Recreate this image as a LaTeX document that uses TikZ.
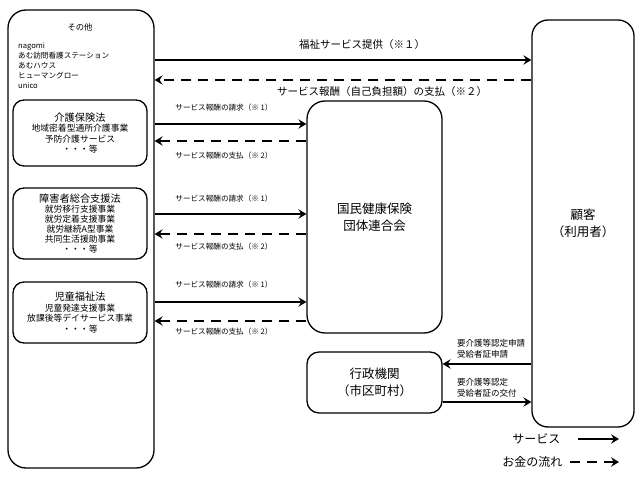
\documentclass[tikz,border=0pt]{standalone}
\usepackage{fontspec}
\setmainfont{Noto Sans CJK JP}
\usetikzlibrary{arrows.meta}
\tikzset{
  bigbox/.style={draw, line width=1.3pt, rounded corners=18pt},
  lawbox/.style={draw, line width=1.3pt, rounded corners=11pt, align=center,
    minimum width=134pt, font=\fontsize{8.8}{10.5}\selectfont},
  srvline/.style={line width=2pt, -{Stealth[length=8pt,width=9.5pt,inset=3pt]}},
  payline/.style={srvline, dash pattern=on 10pt off 7pt},
  smalltext/.style={font=\fontsize{7.6}{9}\selectfont},
  toptext/.style={font=\fontsize{10.5}{12}\selectfont},
  bigtext/.style={font=\fontsize{12.5}{17}\selectfont, align=center},
}
\newcommand{\lawhead}[1]{{\fontsize{10.2}{11}\selectfont #1}}
\newcommand{\serv}[2]{
  \draw [srvline] (#1) to (#2)
}
\newcommand{\pay}[2]{
  \draw [payline] (#1) to (#2)
}

\begin{document}
\begin{tikzpicture}[x=1pt, y=-1pt]
\useasboundingbox (0,0) rectangle (640,478);

% providers
\node (outer) [bigbox, minimum width=146pt, minimum height=458pt] at (81,239) {};
\node (misc) at (80,27) {\fontsize{8.3}{10}\selectfont その他};
\node (misclist) [anchor=north west, align=left, inner sep=0pt,
  font=\fontsize{7.6}{10}\selectfont] at (18,42)
  {nagomi\\あむ訪問看護ステーション\\あむハウス\\ヒューマングロー\\unico};

% law boxes
\node (kaigo) [lawbox, minimum height=66pt] at (80,133)
  {\lawhead{介護保険法}\\地域密着型通所介護事業\\予防介護サービス\\・・・等};
\node (shogai) [lawbox, minimum height=71pt, font=\fontsize{8.8}{10}\selectfont] at (80,223.5)
  {\lawhead{障害者総合支援法}\\就労移行支援事業\\就労定着支援事業\\就労継続A型事業\\共同生活援助事業\\・・・等};
\node (jido) [lawbox, minimum height=61pt] at (80,312.5)
  {\lawhead{児童福祉法}\\児童発達支援事業\\放課後等デイサービス事業\\・・・等};

% right side
\node (kokuho) [bigbox, bigtext, minimum width=135pt, minimum height=232pt] at (374.5,217)
  {国民健康保険\\団体連合会};
\node (gyosei) [bigbox, bigtext, rounded corners=12pt, minimum width=135pt, minimum height=61pt] at (374.5,382.5)
  {行政機関\\（市区町村）};
\node (client) [bigbox, bigtext, rounded corners=16pt, minimum width=102pt, minimum height=407pt] at (583,223.5)
  {顧客\\（利用者）};

% labels
\node (lprov) [toptext] at (362,45) {福祉サービス提供（※１）};
\node (lself) [toptext] at (382,92) {サービス報酬（自己負担額）の支払（※２）};
\node (lreq1) [smalltext] at (224,108) {サービス報酬の請求（※ 1）};
\node (lpay1) [smalltext] at (224,156) {サービス報酬の支払（※ 2）};
\node (lreq2) [smalltext] at (224,199) {サービス報酬の請求（※ 1）};
\node (lpay2) [smalltext] at (224,247) {サービス報酬の支払（※ 2）};
\node (lreq3) [smalltext] at (224,285) {サービス報酬の請求（※ 1）};
\node (lpay3) [smalltext] at (224,332) {サービス報酬の支払（※ 2）};
\node (lapply) [anchor=west, align=left, font=\fontsize{8.5}{11.5}\selectfont, inner sep=0pt] at (457,349)
  {要介護等認定申請\\受給者証申請};
\node (lissue) [anchor=west, align=left, font=\fontsize{8.5}{11}\selectfont, inner sep=0pt] at (457,388)
  {要介護等認定\\受給者証の交付};

% top flows
\serv {outer.east |- 0,60} {client.west |- 0,60};
\pay {client.west |- 0,80} {outer.east |- 0,80};

% flows with kokuho
\serv {outer.east |- 0,124} {kokuho.west |- 0,124};
\pay {kokuho.west |- 0,141} {outer.east |- 0,141};
\serv {outer.east |- 0,214} {kokuho.west |- 0,214};
\pay {kokuho.west |- 0,234} {outer.east |- 0,234};
\serv {outer.east |- 0,302} {kokuho.west |- 0,302};
\pay {kokuho.west |- 0,321} {outer.east |- 0,321};

% flows with gyosei
\serv {client.west |- 0,364} {gyosei.east |- 0,364};
\serv {gyosei.east |- 0,402} {client.west |- 0,402};

% legend
\node (legsrv) [font=\fontsize{12}{14}\selectfont, anchor=east] at (564,439) {サービス};
\node (legpay) [font=\fontsize{12}{14}\selectfont, anchor=east] at (566,462) {お金の流れ};
\coordinate (legsrvA) at (578,439);
\coordinate (legsrvB) at (619,439);
\coordinate (legpayA) at (570,462);
\coordinate (legpayB) at (619,462);
\serv {legsrvA} {legsrvB};
\pay {legpayA} {legpayB};

\end{tikzpicture}
\end{document}
